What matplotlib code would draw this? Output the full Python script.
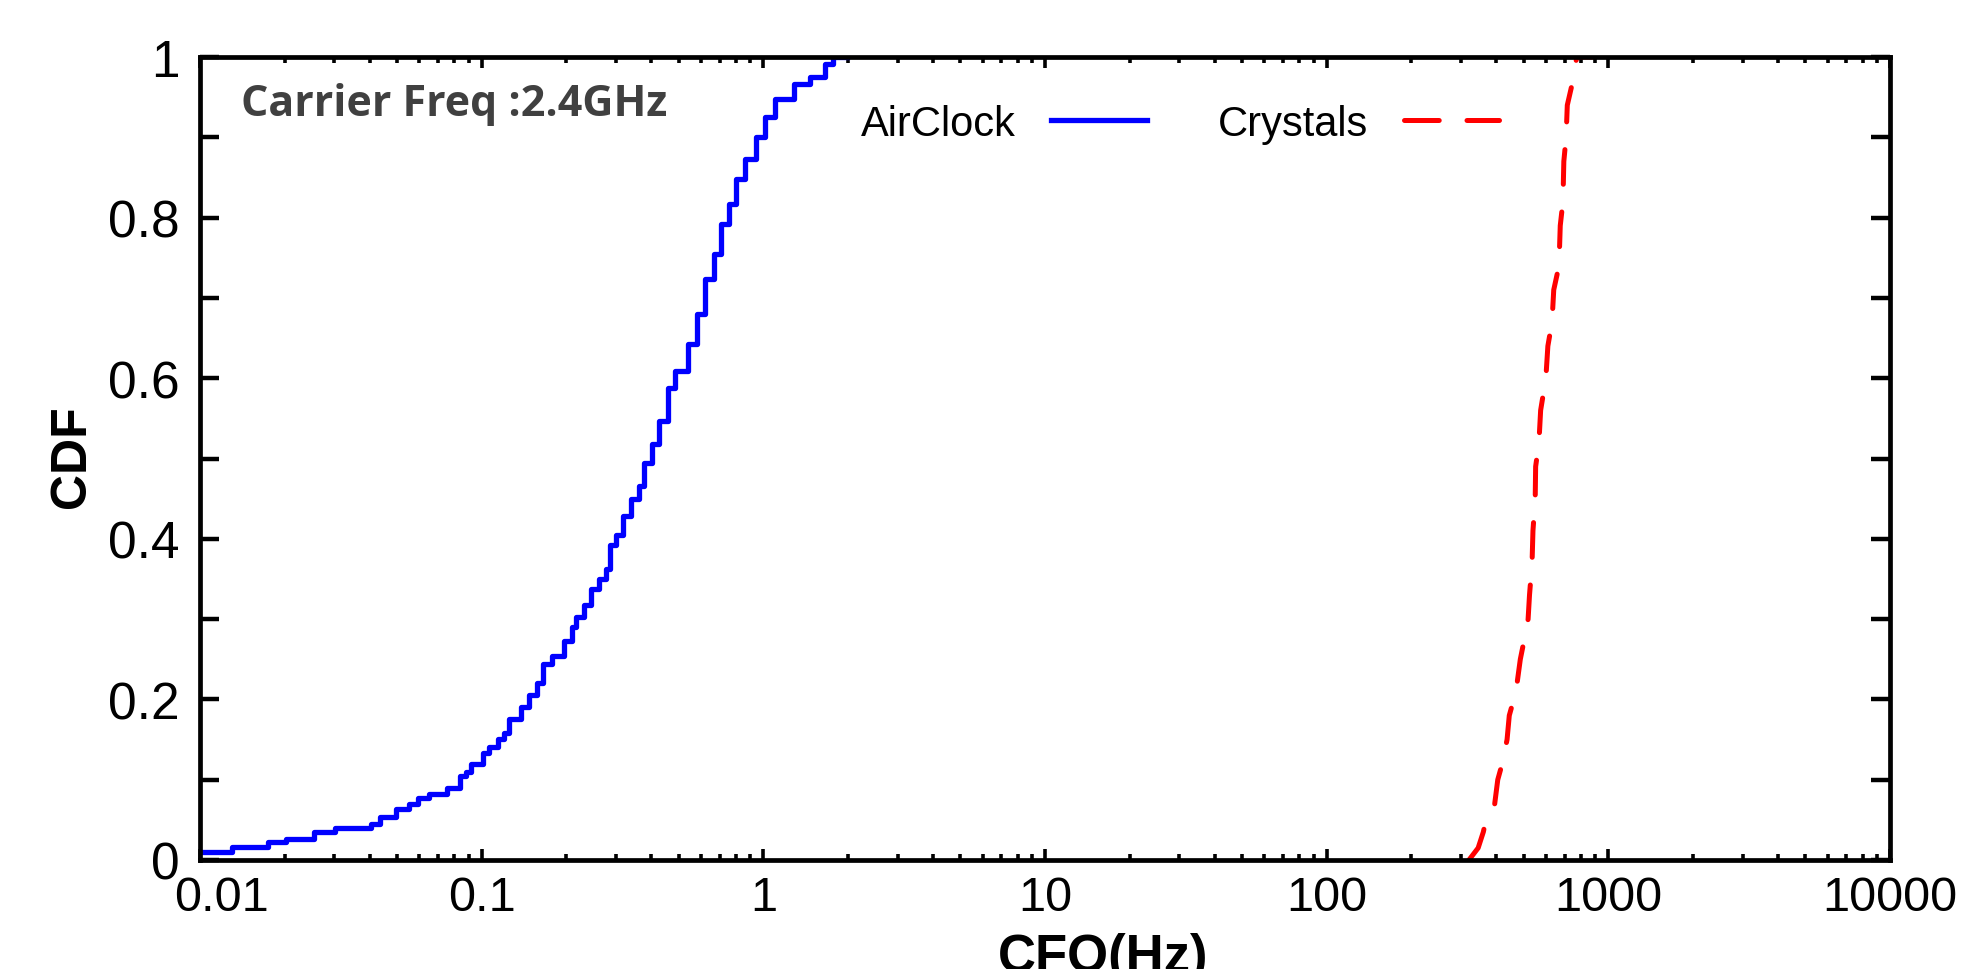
import matplotlib
matplotlib.use('Agg')
import numpy as np
import matplotlib.pyplot as plt
import matplotlib.transforms as mtransforms
from matplotlib.ticker import FixedLocator, LogLocator, NullFormatter

# ---------------- data ----------------
airclock_cfo = [0.0100, 0.0130, 0.0174, 0.0202, 0.0253, 0.0302, 0.0404, 0.0437,
                0.0496, 0.0551, 0.0594, 0.0650, 0.0755, 0.0840, 0.0880, 0.0920,
                0.1010, 0.1060, 0.1140, 0.1200, 0.1250, 0.1380, 0.1470, 0.1570,
                0.1650, 0.1780, 0.1960, 0.2100, 0.2160, 0.2300, 0.2450, 0.2620,
                0.2770, 0.2850, 0.3000, 0.3180, 0.3400, 0.3620, 0.3770, 0.4020,
                0.4250, 0.4600, 0.4840, 0.5400, 0.5800, 0.6200, 0.6680, 0.7100,
                0.7550, 0.8000, 0.8600, 0.9400, 1.0100, 1.1000, 1.2800, 1.4600,
                1.6600, 1.7700, 1.9800]
airclock_cdf = [0.0105, 0.016, 0.022, 0.026, 0.035, 0.040, 0.045, 0.054,
                0.064, 0.070, 0.077, 0.082, 0.090, 0.104, 0.110, 0.120,
                0.133, 0.141, 0.151, 0.158, 0.175, 0.190, 0.206, 0.221,
                0.244, 0.254, 0.273, 0.290, 0.302, 0.317, 0.338, 0.350,
                0.363, 0.392, 0.405, 0.428, 0.450, 0.466, 0.495, 0.518,
                0.547, 0.588, 0.609, 0.643, 0.680, 0.724, 0.755, 0.792,
                0.817, 0.848, 0.873, 0.900, 0.925, 0.948, 0.966, 0.975,
                0.991, 1.000, 1.000]

crystal_cfo = [320, 345, 360, 365, 395, 405, 420, 437, 445, 470, 487, 500,
               519, 525, 536, 540, 550, 552, 567, 575, 600, 610, 631, 640,
               668, 675, 690, 695, 708, 715, 748, 760, 775, 875]
crystal_cdf = [0.000, 0.015, 0.035, 0.045, 0.070, 0.100, 0.120, 0.150, 0.180,
               0.210, 0.250, 0.270, 0.300, 0.330, 0.370, 0.410, 0.450, 0.490,
               0.520, 0.560, 0.600, 0.640, 0.670, 0.710, 0.740, 0.790, 0.820,
               0.870, 0.900, 0.940, 0.970, 0.990, 1.000, 1.000]

series_labels = ['AirClock', 'Crystals']
x_ticks = [0.01, 0.1, 1, 10, 100, 1000, 10000]
x_tick_labels = ['0.01', '0.1', '1', '10', '100', '1000', '10000']
y_ticks = [0, 0.2, 0.4, 0.6, 0.8, 1.0]
y_tick_labels = ['0', '0.2', '0.4', '0.6', '0.8', '1']
y_minor_ticks = [0.1, 0.3, 0.5, 0.7, 0.9]
x_label = 'CFO(Hz)'
y_label = 'CDF'
annotation = 'Carrier Freq :2.4GHz'

# ---------------- figure ----------------
plt.rcParams['font.family'] = ['Liberation Sans', 'DejaVu Sans']
plt.rcParams['lines.scale_dashes'] = False

W, H = 1963, 970
fig = plt.figure(figsize=(W / 100, H / 100), dpi=100)
ax = fig.add_axes([200 / W, 1 - 861 / H, 1690 / W, 803 / H])

ax.plot(airclock_cfo, airclock_cdf, color='#0000ff', lw=3.8,
        drawstyle='steps-post', label=series_labels[0])
ax.plot(crystal_cfo, crystal_cdf, color='#ff0000', lw=3.6, dashes=(25, 20),
        dash_capstyle='round', label=series_labels[1])

ax.set_xscale('log')
ax.set_xlim(0.01, 10000)
ax.set_ylim(0, 1)

ax.xaxis.set_major_locator(FixedLocator(x_ticks))
ax.set_xticklabels(x_tick_labels)
ax.xaxis.set_minor_locator(LogLocator(base=10, subs=np.arange(2, 10), numticks=30))
ax.xaxis.set_minor_formatter(NullFormatter())
ax.set_yticks(y_ticks)
ax.set_yticklabels(y_tick_labels)
ax.set_yticks(y_minor_ticks, minor=True)

ax.tick_params(axis='x', which='major', direction='in', length=8, width=2.6,
               top=True, bottom=True, labelsize=35, pad=11)
ax.tick_params(axis='x', which='minor', direction='in', length=4.5, width=2.6,
               top=True, bottom=True)
ax.tick_params(axis='y', which='both', direction='in', length=14, width=3.2,
               left=True, right=True, labelsize=37, pad=15)
for s in ax.spines.values():
    s.set_linewidth(3.4)

# shift the first x tick label slightly to the right, as in the reference
first = ax.get_xticklabels()[0]
first.set_transform(first.get_transform() +
                    mtransforms.ScaledTranslation(0.22, 0, fig.dpi_scale_trans))

# legend: label first, handle after
ax.legend(loc='center left', bbox_to_anchor=(861 / W, 1 - 125 / H),
          bbox_transform=fig.transFigure, ncol=2, frameon=False,
          markerfirst=False, fontsize=30, handlelength=2.3,
          handletextpad=0.85, columnspacing=1.7, borderpad=0,
          borderaxespad=0)

fig.text(241 / W, 1 - 116 / H, annotation, ha='left', va='baseline',
         family='Open Sans', fontweight='bold', fontsize=31, color='#404040')

fig.text(1103 / W, 1 - 933 / H, x_label, ha='center', va='top',
         fontsize=38, fontweight='bold')
fig.text(72 / W, 1 - 457 / H, y_label, ha='center', va='center',
         rotation=90, fontsize=36, fontweight='bold')

fig.savefig('out.png', dpi=100, facecolor='white')
